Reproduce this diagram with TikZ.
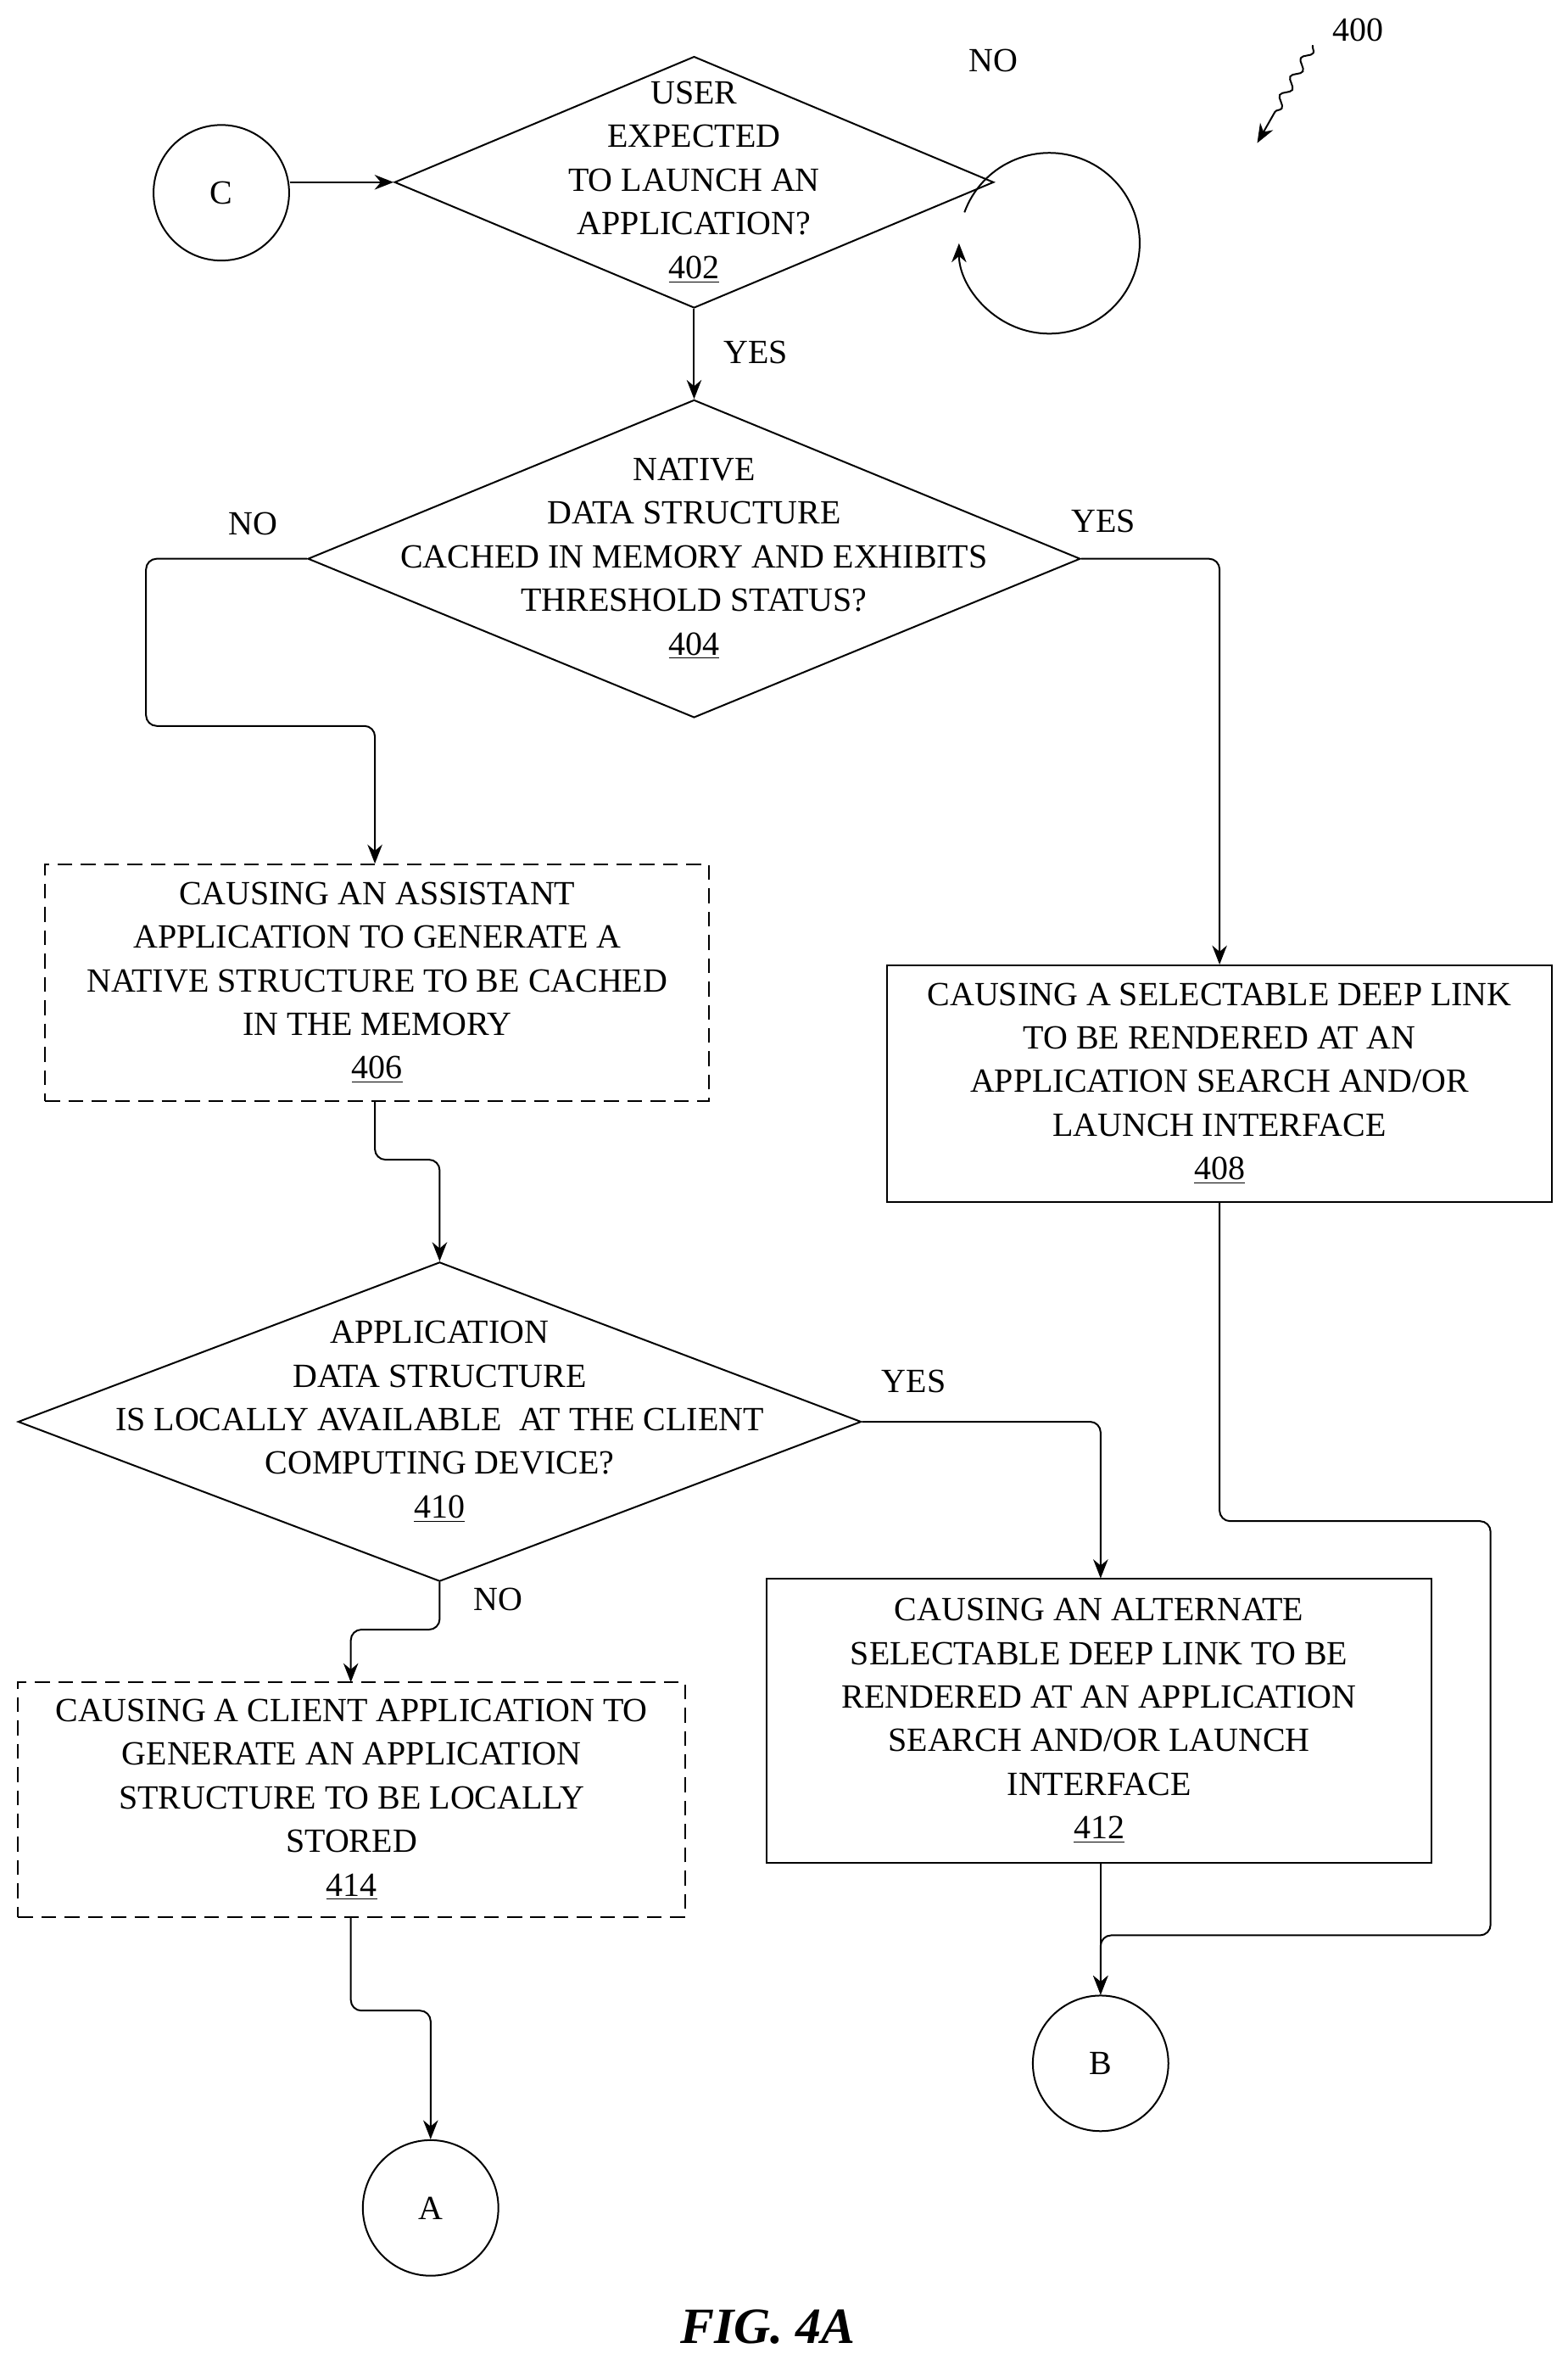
\documentclass[tikz,border=0pt]{standalone}
\usepackage{fontspec}
\setmainfont{Liberation Serif}
\usetikzlibrary{shapes.geometric,arrows.meta,decorations.pathmorphing}
\begin{document}
\begin{tikzpicture}[x=0.025cm,y=-0.025cm,
  every node/.style={font=\fontsize{16}{20.6}\selectfont},
  txt/.style={align=center,inner sep=0},
  dia/.style={draw,thick,diamond,inner sep=0},
  box/.style={draw,thick,inner sep=0},
  dbox/.style={box,dashed,dash pattern=on 7pt off 4pt},
  circ/.style={draw,thick,circle,minimum size=2.25cm,inner sep=0},
  arr/.style={thick,-{Stealth[length=9pt,width=7pt]},rounded corners=5pt},
  lbl/.style={inner sep=0}]
\useasboundingbox (0,0) rectangle (1041,1563);
% nodes
\node[circ] (C) at (147,128) {C};
\node[dia,minimum width={398*0.025cm},minimum height={167*0.025cm}] (d402) at (461,121) {};
\node[txt] at (461,121) {USER\\EXPECTED\\TO LAUNCH AN\\APPLICATION?\\\underline{402}};
\node[dia,minimum width={513*0.025cm},minimum height={211*0.025cm}] (d404) at (461,371) {};
\node[txt] at (461,371) {NATIVE\\DATA STRUCTURE\\CACHED IN MEMORY AND EXHIBITS\\THRESHOLD STATUS?\\\underline{404}};
\node[dbox,minimum width={441*0.025cm},minimum height={157*0.025cm}] (b406) at (250.5,652.5) {};
\node[txt] at (250.5,652.5) {CAUSING AN ASSISTANT\\APPLICATION TO GENERATE A\\NATIVE STRUCTURE TO BE CACHED\\IN THE MEMORY\\\underline{406}};
\node[box,minimum width={442*0.025cm},minimum height={157*0.025cm}] (b408) at (810,719.5) {};
\node[txt] at (810,719.5) {CAUSING A SELECTABLE DEEP LINK\\TO BE RENDERED AT AN\\APPLICATION SEARCH AND/OR\\LAUNCH INTERFACE\\\underline{408}};
\node[dia,minimum width={560*0.025cm},minimum height={212*0.025cm}] (d410) at (292,944) {};
\node[txt] at (292,944) {APPLICATION\\DATA STRUCTURE\\IS LOCALLY AVAILABLE\ \ AT THE CLIENT\\COMPUTING DEVICE?\\\underline{410}};
\node[box,minimum width={442*0.025cm},minimum height={189*0.025cm}] (b412) at (730,1142.5) {};
\node[txt] at (730,1142.5) {CAUSING AN ALTERNATE\\SELECTABLE DEEP LINK TO BE\\RENDERED AT AN APPLICATION\\SEARCH AND/OR LAUNCH\\INTERFACE\\\underline{412}};
\node[dbox,minimum width={443*0.025cm},minimum height={156*0.025cm}] (b414) at (233.5,1195) {};
\node[txt] at (233.5,1195) {CAUSING A CLIENT APPLICATION TO\\GENERATE AN APPLICATION\\STRUCTURE TO BE LOCALLY\\STORED\\\underline{414}};
\node[circ] (A) at (286,1466) {A};
\node[circ] (B) at (731,1370) {B};
% connectors
\draw[arr] (C.east |- d402.west) -- (d402.west);
\draw[thick,-{Stealth[length=9pt,width=7pt]}] ([shift={(-20,20)}]d402.east) arc[start angle=-160,end angle=180,radius=60];
\node[lbl] at (660,40) {NO};
\draw[arr] (d402.south) -- (d404.north);
\node[lbl] at (502,234) {YES};
\draw[arr] (d404.west) -- (97,371) -- (97,482) -- (249,482) -- (b406.north -| 249,0);
\node[lbl] at (168,348) {NO};
\draw[arr] (d404.east) -- (810,371) -- (b408.north);
\node[lbl] at (733,346) {YES};
\draw[arr] (249,731) -- (249,770) -- (292,770) -- (d410.north);
\draw[arr] (d410.east) -- (731,944) -- (731,1048);
\node[lbl] at (607,917) {YES};
\draw[arr] (d410.south) -- (292,1082) -- (233,1082) -- (233,1117);
\node[lbl] at (331,1062) {NO};
\draw[arr] (233,1273) -- (233,1335) -- (286,1335) -- (A.north);
\draw[arr] (731,1237) -- (B.north);
\draw[arr] (b408.south) -- (810,1010) -- (990,1010) -- (990,1285) -- (731,1285) -- (B.north);
% ref number
\node[lbl] (n400) at (902,20) {400};
\draw[thick,-{Stealth[length=9pt,width=7pt]},decorate,decoration={snake,amplitude=2pt,segment length=10pt,post length=12pt}] (872,30) -- (835,95);
\node[lbl,font=\fontsize{24}{28}\selectfont\bfseries\itshape] at (510,1545) {FIG. 4A};
\end{tikzpicture}
\end{document}
